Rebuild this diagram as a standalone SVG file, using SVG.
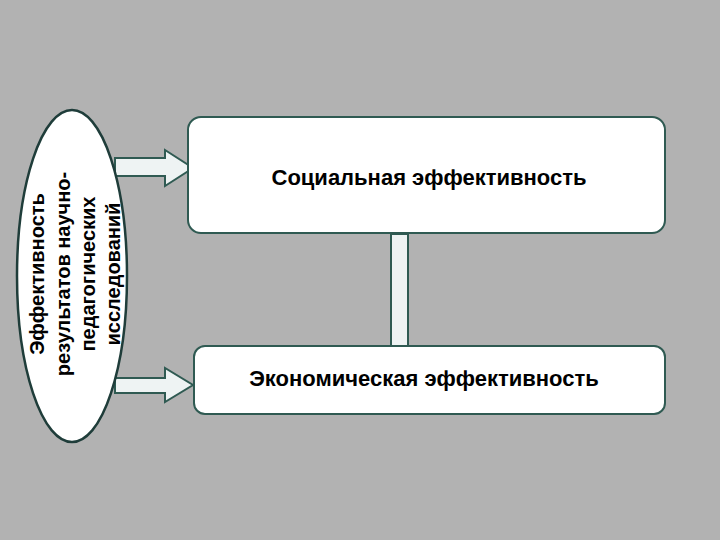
<svg xmlns="http://www.w3.org/2000/svg" width="720" height="540" viewBox="0 0 720 540">
<style>
.box{fill:#ffffff;stroke:#2f5a52;stroke-width:2}
.arr{fill:#eef3f3;stroke:#2f5a52;stroke-width:2;stroke-linejoin:miter}
.lbl{font-family:"Liberation Sans",Arial,sans-serif;font-weight:bold;font-size:20px;fill:#000}
.big{font-size:22px}
</style>
<rect width="720" height="540" fill="#b2b2b2"/>
<g id="connectors">
<path class="arr" d="M115,158 H165 V150 L193,168 L165,186 V176 H115 Z"/>
<path class="arr" d="M115,378 H165 V368 L193,385 L165,402 V393 H115 Z"/>
<rect class="arr" x="391" y="234" width="17" height="114" fill="#f6fbfb"/>
</g>
<g id="oval">
<ellipse cx="72" cy="276" rx="55" ry="166" fill="#ffffff" stroke="#1f3d3a" stroke-width="2.5"/>
<g text-anchor="middle" transform="translate(72,274) rotate(-90)">
<text class="lbl" x="0" y="-28">Эффективность</text>
<text class="lbl" x="0" y="-2">результатов научно-</text>
<text class="lbl" x="0" y="23">педагогических</text>
<text class="lbl" x="0" y="48">исследований</text>
</g>
</g>
<g id="social">
<rect class="box" x="188" y="117" width="477" height="116" rx="13"/>
<text class="lbl big" x="429" y="185" text-anchor="middle">Социальная эффективность</text>
</g>
<g id="economic">
<rect class="box" x="194" y="346" width="471" height="68" rx="11"/>
<text class="lbl big" x="424" y="386" text-anchor="middle">Экономическая эффективность</text>
</g>
</svg>
